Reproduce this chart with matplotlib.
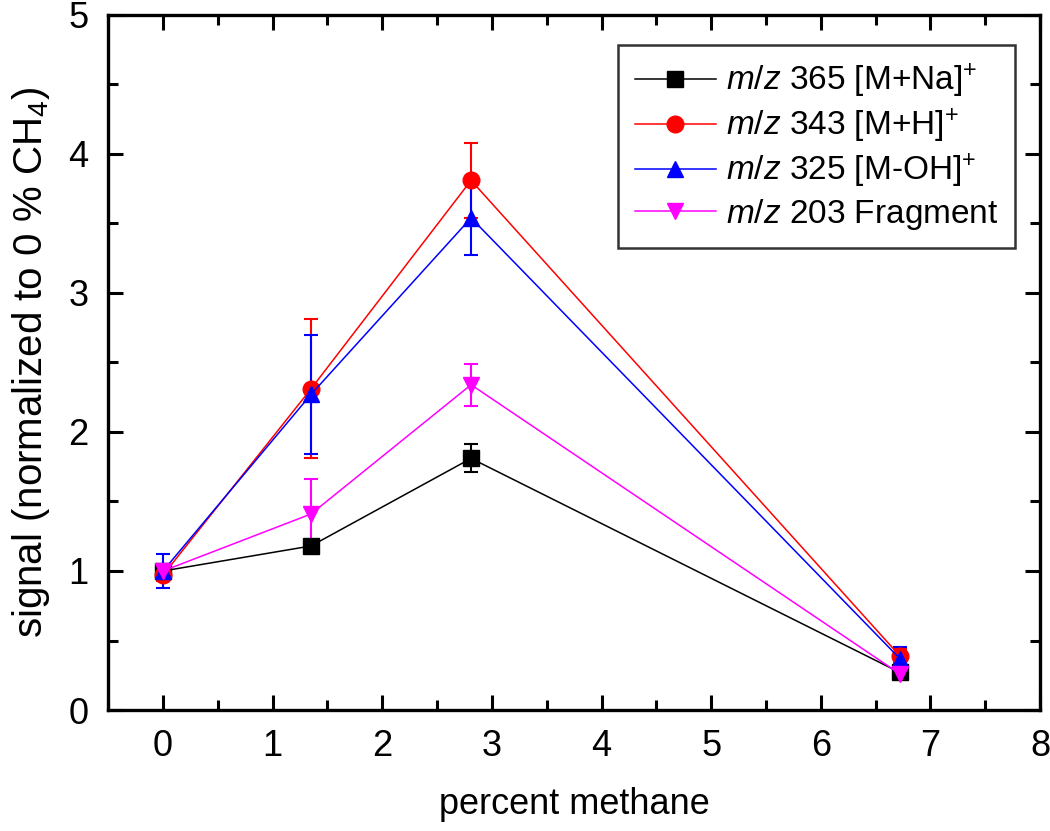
import numpy as np
import matplotlib
matplotlib.use("Agg")
from matplotlib import pyplot as plt

# percent methane (x) and normalised signals per ion
methane = [0.0, 1.35, 2.81, 6.72]

na_signal = [1.0, 1.18, 1.81, 0.27]
na_err = [0.03, 0.03, 0.10, 0.03]

h_signal = [0.97, 2.31, 3.81, 0.39]
h_err = [0.04, 0.50, 0.27, 0.05]

oh_signal = [1.0, 2.27, 3.54, 0.37]
oh_err = [0.12, 0.43, 0.27, 0.08]

frag_signal = [1.0, 1.41, 2.34, 0.26]
frag_err = [0.04, 0.25, 0.15, 0.04]

SERIES = [
    (na_signal, na_err, "black", "s", r"$m/z$ 365 [M+Na]$^{+}$"),
    (h_signal, h_err, "red", "o", r"$m/z$ 343 [M+H]$^{+}$"),
    (oh_signal, oh_err, "blue", "^", r"$m/z$ 325 [M-OH]$^{+}$"),
    (frag_signal, frag_err, "magenta", "v", r"$m/z$ 203 Fragment"),
]

TICK_SIZE = 26
plt.rcParams.update({
    "font.family": "Liberation Sans",
    "mathtext.fontset": "custom",
    "mathtext.rm": "Liberation Sans",
    "mathtext.it": "Liberation Sans:italic",
    "mathtext.bf": "Liberation Sans:bold",
    "axes.linewidth": 2.4,
})

fig = plt.figure(figsize=(10.5, 8.31), dpi=100)
ax = fig.add_axes([0.103, 0.1456, 0.8876, 0.8364])

handles = []
for y, err, color, marker, label in SERIES:
    cont = ax.errorbar(methane, y, yerr=err, color=color, marker=marker, markersize=12,
                       linewidth=1.1, elinewidth=1.5, capsize=5, capthick=1.5, label=label)
    handles.append(cont.lines[0])

ax.set_xlim(-0.5, 8)
ax.set_ylim(0, 5)
ax.set_xticks(np.arange(0, 9, 1))
ax.set_xticks(np.arange(-0.5, 8, 0.5), minor=True)
ax.set_yticks(np.arange(0, 6, 1))
ax.set_yticks(np.arange(0.5, 5, 0.5), minor=True)
ax.tick_params(axis="both", which="major", direction="in", length=11, width=2.2,
               top=True, right=True, labelsize=TICK_SIZE, pad=14)
ax.tick_params(axis="both", which="minor", direction="in", length=7, width=2.2,
               top=True, right=True)

ax.set_xlabel("percent methane", fontsize=26, labelpad=16)
ax.set_ylabel(r"signal (normalized to 0 % CH$_4$)", fontsize=29, labelpad=12)

leg = ax.legend(handles, [s[4] for s in SERIES], loc="upper right",
                bbox_to_anchor=(0.9735, 0.9565), fontsize=24,
                frameon=True, fancybox=False, edgecolor="black", handlelength=2.45,
                borderpad=0.5, labelspacing=0.2, handletextpad=0.3, borderaxespad=0)
leg.get_frame().set_linewidth(1.8)

fig.savefig("out.png", dpi=100)
